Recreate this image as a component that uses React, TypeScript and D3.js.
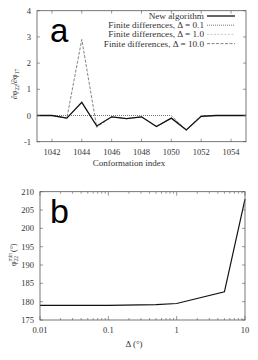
import React, { useEffect, useRef } from 'react';
import * as d3 from 'd3';

// panel a: derivative per conformation
const conformations = [1041, 1042, 1043, 1044, 1045, 1046, 1047, 1048, 1049, 1050, 1051, 1052, 1053, 1054, 1055];
const newAlgorithm = [0, 0, -0.1, 0.5, -0.4, -0.05, -0.12, -0.05, -0.42, -0.1, -0.55, -0.03, 0, 0, 0];
const fd01 = [0, 0, 0, 0, 0, 0, 0, 0, 0, 0, -0.55, -0.02, 0, 0, 0];
const fd10 = [0, 0, -0.1, 0.5, -0.4, -0.05, -0.12, -0.05, -0.42, -0.1, -0.55, -0.03, 0, 0, 0];
const fd100 = [0, 0, -0.1, 2.9, -0.45, -0.05, -0.12, -0.05, -0.42, -0.1, -0.55, 0, 0, 0, 0];
const aYTicks = [-1, 0, 1, 2, 3, 4];
const aXTicks = [1042, 1044, 1046, 1048, 1050, 1052, 1054];

// panel b: minimum angle vs step size
const deltas = [0.01, 0.1, 0.5, 1, 5, 10];
const phiMin = [179, 179, 179.2, 179.5, 182.7, 208];
const bYTicks = [175, 180, 185, 190, 195, 200, 205, 210];
const bXTicks = [0.01, 0.1, 1, 10];

const legendItems = [
  { label: 'New algorithm', data: newAlgorithm, color: '#111', dash: '', width: 1.3 },
  { label: 'Finite differences, Δ = 0.1', data: fd01, color: '#777', dash: '1,1', width: 1 },
  { label: 'Finite differences, Δ = 1.0', data: fd10, color: '#bbb', dash: '2,1.5', width: 0.8 },
  { label: 'Finite differences, Δ = 10.0', data: fd100, color: '#666', dash: '3,1.5', width: 0.8 },
];

const App = () => {
  const svgRef = useRef<SVGSVGElement>(null);

  useEffect(() => {
    const svg = d3.select(svgRef.current);
    svg.selectAll('*').remove();
    const font = 'Liberation Serif, Times New Roman, serif';
    const frame = '#555';

    // ---------- panel a ----------
    const ax = d3.scaleLinear().domain([1041, 1055]).range([37, 246]);
    const ay = d3.scaleLinear().domain([-1, 4]).range([141.7, 10.7]);
    const ga = svg.append('g');

    const line = d3.line<number>().x((d, i) => ax(conformations[i])).y(d => ay(d));
    const drawOrder = [3, 2, 1, 0];
    drawOrder.forEach(k => {
      const s = legendItems[k];
      ga.append('path')
        .attr('d', line(s.data))
        .attr('fill', 'none')
        .attr('stroke', s.color)
        .attr('stroke-width', s.width)
        .attr('stroke-dasharray', s.dash || null);
    });

    ga.append('rect')
      .attr('x', ax.range()[0]).attr('y', ay.range()[1])
      .attr('width', ax.range()[1] - ax.range()[0])
      .attr('height', ay.range()[0] - ay.range()[1])
      .attr('fill', 'none').attr('stroke', frame).attr('stroke-width', 0.8);

    aYTicks.forEach(t => {
      ga.append('line').attr('x1', ax.range()[0]).attr('x2', ax.range()[0] + 3)
        .attr('y1', ay(t)).attr('y2', ay(t)).attr('stroke', frame).attr('stroke-width', 0.6);
      ga.append('line').attr('x1', ax.range()[1]).attr('x2', ax.range()[1] - 3)
        .attr('y1', ay(t)).attr('y2', ay(t)).attr('stroke', frame).attr('stroke-width', 0.6);
      ga.append('text').attr('x', 31).attr('y', ay(t) + 3)
        .attr('text-anchor', 'end').attr('font-family', font).attr('font-size', 8.5)
        .attr('fill', '#333').text(t);
    });
    aXTicks.forEach(t => {
      ga.append('line').attr('x1', ax(t)).attr('x2', ax(t))
        .attr('y1', ay.range()[0]).attr('y2', ay.range()[0] - 3).attr('stroke', frame).attr('stroke-width', 0.6);
      ga.append('line').attr('x1', ax(t)).attr('x2', ax(t))
        .attr('y1', ay.range()[1]).attr('y2', ay.range()[1] + 3).attr('stroke', frame).attr('stroke-width', 0.6);
      ga.append('text').attr('x', ax(t)).attr('y', 155)
        .attr('text-anchor', 'middle').attr('font-family', font).attr('font-size', 8.5)
        .attr('fill', '#333').text(t);
    });
    ga.append('text').attr('x', 129).attr('y', 165.5).attr('text-anchor', 'middle')
      .attr('font-family', font).attr('font-size', 9).attr('fill', '#333').text('Conformation index');

    const yt = ga.append('text').attr('transform', `translate(17,84) rotate(-90)`)
      .attr('text-anchor', 'middle').attr('font-family', font).attr('font-size', 8).attr('fill', '#333');
    yt.append('tspan').text('∂φ');
    yt.append('tspan').attr('font-size', 5.5).attr('dy', 2).text('22');
    yt.append('tspan').attr('dy', -2).text('/∂φ');
    yt.append('tspan').attr('font-size', 5.5).attr('dy', 2).text('17');

    legendItems.forEach((s, i) => {
      const y = 16 + i * 9.2;
      ga.append('text').attr('x', 204).attr('y', y + 3).attr('text-anchor', 'end')
        .attr('font-family', font).attr('font-size', 9.2).attr('fill', '#333').text(s.label);
      ga.append('line').attr('x1', 207).attr('x2', 235).attr('y1', y).attr('y2', y)
        .attr('stroke', s.color).attr('stroke-width', s.width)
        .attr('stroke-dasharray', s.dash || null);
    });

    ga.append('text').attr('x', 50).attr('y', 42).attr('font-family', 'Liberation Sans, Arial, sans-serif')
      .attr('font-size', 33).attr('fill', '#000').text('a');

    // ---------- panel b ----------
    const bx = d3.scaleLog().domain([0.01, 10]).range([40, 245]);
    const by = d3.scaleLinear().domain([175, 210]).range([320, 191.7]);
    const gb = svg.append('g');

    const lineB = d3.line<number>().x((d, i) => bx(deltas[i])).y(d => by(d));
    gb.append('path').attr('d', lineB(phiMin)).attr('fill', 'none')
      .attr('stroke', '#111').attr('stroke-width', 1.2);

    gb.append('rect')
      .attr('x', bx.range()[0]).attr('y', by.range()[1])
      .attr('width', bx.range()[1] - bx.range()[0])
      .attr('height', by.range()[0] - by.range()[1])
      .attr('fill', 'none').attr('stroke', frame).attr('stroke-width', 0.8);

    bYTicks.forEach(t => {
      gb.append('line').attr('x1', bx.range()[0]).attr('x2', bx.range()[0] + 3)
        .attr('y1', by(t)).attr('y2', by(t)).attr('stroke', frame).attr('stroke-width', 0.6);
      gb.append('line').attr('x1', bx.range()[1]).attr('x2', bx.range()[1] - 3)
        .attr('y1', by(t)).attr('y2', by(t)).attr('stroke', frame).attr('stroke-width', 0.6);
      gb.append('text').attr('x', 34).attr('y', by(t) + 3)
        .attr('text-anchor', 'end').attr('font-family', font).attr('font-size', 8.5)
        .attr('fill', '#333').text(t);
    });
    const minor = bx.ticks();
    minor.forEach(t => {
      const major = bXTicks.includes(t);
      const len = major ? 4 : 2;
      gb.append('line').attr('x1', bx(t)).attr('x2', bx(t))
        .attr('y1', by.range()[0]).attr('y2', by.range()[0] - len).attr('stroke', frame).attr('stroke-width', 0.6);
      gb.append('line').attr('x1', bx(t)).attr('x2', bx(t))
        .attr('y1', by.range()[1]).attr('y2', by.range()[1] + len).attr('stroke', frame).attr('stroke-width', 0.6);
    });
    bXTicks.forEach(t => {
      gb.append('text').attr('x', bx(t)).attr('y', 333)
        .attr('text-anchor', 'middle').attr('font-family', font).attr('font-size', 8.5)
        .attr('fill', '#333').text(String(t));
    });
    gb.append('text').attr('x', 134).attr('y', 347).attr('text-anchor', 'middle')
      .attr('font-family', font).attr('font-size', 9).attr('fill', '#333').text('Δ (°)');

    // y label: phi_22^min (°), rotated
    const yb = gb.append('g').attr('transform', `translate(16,266) rotate(-90)`)
      .attr('font-family', font).attr('fill', '#333');
    yb.append('text').attr('x', 0).attr('y', 0).attr('font-size', 8).text('φ');
    yb.append('text').attr('x', 4.5).attr('y', 2).attr('font-size', 5.5).text('22');
    yb.append('text').attr('x', 4.5).attr('y', -4).attr('font-size', 5.5).text('min');
    yb.append('text').attr('x', 14).attr('y', 0).attr('font-size', 8).text('(°)');

    gb.append('text').attr('x', 50).attr('y', 223).attr('font-family', 'Liberation Sans, Arial, sans-serif')
      .attr('font-size', 34).attr('fill', '#000').text('b');
  }, []);

  return (
    <div style={{ position: 'absolute', left: 0, top: 0 }}>
      <svg ref={svgRef} width={258} height={360} style={{ display: 'block', background: '#fff' }} />
    </div>
  );
};

export default App;
